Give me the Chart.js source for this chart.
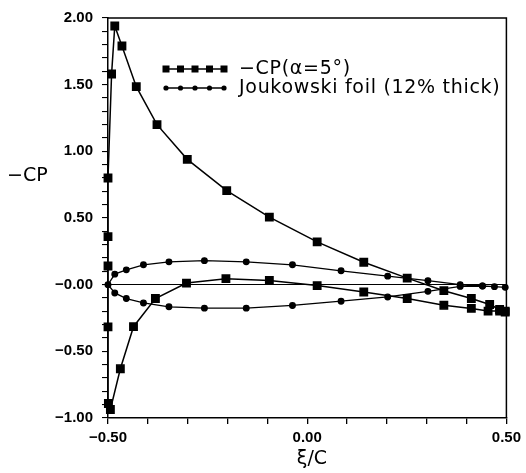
<!DOCTYPE html>
<html>
<head>
<meta charset="utf-8">
<script src="https://cdn.jsdelivr.net/npm/chart.js@4"></script>
<style>
  html, body { margin: 0; padding: 0; background: #fff; }
</style>
</head>
<body>
<canvas id="c" width="526" height="473"></canvas>
<script>
// -CP around the section: lower surface from the trailing edge to the nose, then upper surface back
const cpX = [0.497, 0.483, 0.454, 0.412, 0.343, 0.251, 0.142, 0.025, -0.095, -0.204, -0.303, -0.381, -0.436, -0.469, -0.494,
  -0.499, -0.5, -0.5, -0.5, -0.5, -0.491, -0.483, -0.465, -0.429, -0.377, -0.301, -0.202, -0.095, 0.025, 0.142, 0.251,
  0.343, 0.412, 0.458, 0.483, 0.497];
const cpY = [-0.206, -0.198, -0.198, -0.178, -0.154, -0.104, -0.055, -0.007, 0.032, 0.045, 0.012, -0.104, -0.315, -0.631, -0.936,
  -0.891, -0.317, 0.14, 0.36, 0.80, 1.58, 1.94, 1.79, 1.485, 1.20, 0.94, 0.705, 0.507, 0.321, 0.168, 0.049,
  -0.045, -0.104, -0.149, -0.186, -0.198];

// Joukowski foil outline: upper surface trailing edge -> nose, then lower surface back
const foilX = [0.497, 0.47, 0.44, 0.384, 0.303, 0.202, 0.085, -0.037, -0.153, -0.258, -0.347, -0.411, -0.454, -0.483, -0.5,
  -0.483, -0.454, -0.411, -0.347, -0.258, -0.153, -0.037, 0.085, 0.202, 0.303, 0.384, 0.44];
const foilY = [-0.02, -0.015, -0.01, 0.0, 0.030, 0.064, 0.104, 0.149, 0.171, 0.180, 0.171, 0.149, 0.111, 0.079, 0.0,
  -0.062, -0.104, -0.137, -0.166, -0.176, -0.176, -0.156, -0.124, -0.092, -0.050, -0.013, -0.01];

const labels = ["\u2212CP(\u03b1=5\u00b0)", "Joukowski foil (12% thick)"];
const yLabelTicks = [2, 1.5, 1, 0.5, 0, -0.5, -1];
const xLabelTicks = [-0.5, 0, 0.5];

const FONT = "'DejaVu Sans', 'Liberation Sans', sans-serif";
const TICKFONT = "'Liberation Sans', Arial, sans-serif";
const toPts = (xs, ys) => xs.map((x, i) => ({ x: x, y: ys[i] }));

function fmt(v) {
  const s = Math.abs(v).toFixed(2);
  if (v < 0) return "\u2212" + s;
  return s;
}
const near = (v, list) => list.find((t) => Math.abs(t - v) < 1e-6);

// frame, titles and the hand-drawn legend
const extras = {
  id: "extras",
  afterDatasetsDraw(chart) {
    const c = chart.ctx;
    const a = chart.chartArea;
    c.save();
    c.strokeStyle = "#000";
    c.lineWidth = 1.5;
    c.beginPath();
    c.moveTo(a.left, a.top);
    c.lineTo(a.right, a.top);
    c.lineTo(a.right, a.bottom);
    c.stroke();

    c.fillStyle = "#000";
    c.font = "19px " + FONT;
    c.textBaseline = "middle";
    c.textAlign = "left";
    c.fillText("\u2212CP", 7, 176);
    c.textAlign = "center";
    c.fillText("\u03be/C", 312, 459);

    // legend
    const rows = [69, 88];
    chart.data.datasets.forEach((ds, i) => {
      const y = rows[i];
      c.lineWidth = 1.5;
      c.beginPath();
      c.moveTo(164, y);
      c.lineTo(226, y);
      c.stroke();
      for (let k = 0; k < 5; k++) {
        const x = 166 + k * 14.5;
        if (i === 0) {
          c.fillRect(x - 3.5, y - 3.5, 7, 7);
        } else {
          c.beginPath();
          c.arc(x, y, 2.6, 0, Math.PI * 2);
          c.fill();
        }
      }
      c.font = "19px " + FONT;
      c.letterSpacing = "0.7px";
      c.textAlign = "left";
      c.fillText(ds.label, 239, y);
      c.letterSpacing = "0px";
    });
    c.restore();
  }
};

new Chart(document.getElementById("c"), {
  type: "scatter",
  data: {
    datasets: [
      {
        label: labels[0],
        data: toPts(cpX, cpY),
        showLine: true,
        borderColor: "#000",
        backgroundColor: "#000",
        borderWidth: 1.5,
        pointStyle: "rect",
        pointRadius: 5.2,
        pointHoverRadius: 5.2,
        clip: false
      },
      {
        label: labels[1],
        data: toPts(foilX, foilY),
        showLine: true,
        borderColor: "#000",
        backgroundColor: "#000",
        borderWidth: 1.3,
        pointStyle: "circle",
        pointRadius: 2.8,
        pointHoverRadius: 2.8,
        clip: false
      }
    ]
  },
  options: {
    responsive: false,
    animation: false,
    devicePixelRatio: 1,
    layout: { padding: { left: 0, right: 14, top: 14, bottom: 0 } },
    plugins: { legend: { display: false }, tooltip: { enabled: false } },
    scales: {
      x: {
        type: "linear",
        min: -0.5,
        max: 0.5,
        afterFit(s) { s.height = 55; },
        border: { display: true, color: "#000", width: 1.5 },
        grid: { drawOnChartArea: false, color: "#000", tickLength: 6, tickColor: "#000", lineWidth: 1.3 },
        ticks: {
          stepSize: 0.1,
          autoSkip: false,
          maxRotation: 0,
          padding: 5,
          color: "#000",
          font: { family: TICKFONT, size: 15, weight: "bold" },
          callback: (v) => (near(v, xLabelTicks) !== undefined ? fmt(near(v, xLabelTicks)) : "")
        }
      },
      y: {
        type: "linear",
        min: -1,
        max: 2,
        afterFit(s) { s.width = 108; },
        border: { display: true, color: "#000", width: 1.5 },
        grid: {
          drawOnChartArea: true,
          color: (ctx) => (ctx.tick && Math.abs(ctx.tick.value) < 1e-6 ? "#000" : "rgba(0,0,0,0)"),
          lineWidth: 1.1,
          tickLength: 6,
          tickColor: "#000"
        },
        ticks: {
          stepSize: 0.1,
          autoSkip: false,
          padding: 9,
          color: "#000",
          font: { family: TICKFONT, size: 15, weight: "bold" },
          callback: (v) => {
            const t = near(v, yLabelTicks);
            if (t === undefined) return "";
            return t === 0 ? "\u22120.00" : fmt(t);
          }
        }
      }
    }
  },
  plugins: [extras]
});
</script>
</body>
</html>
